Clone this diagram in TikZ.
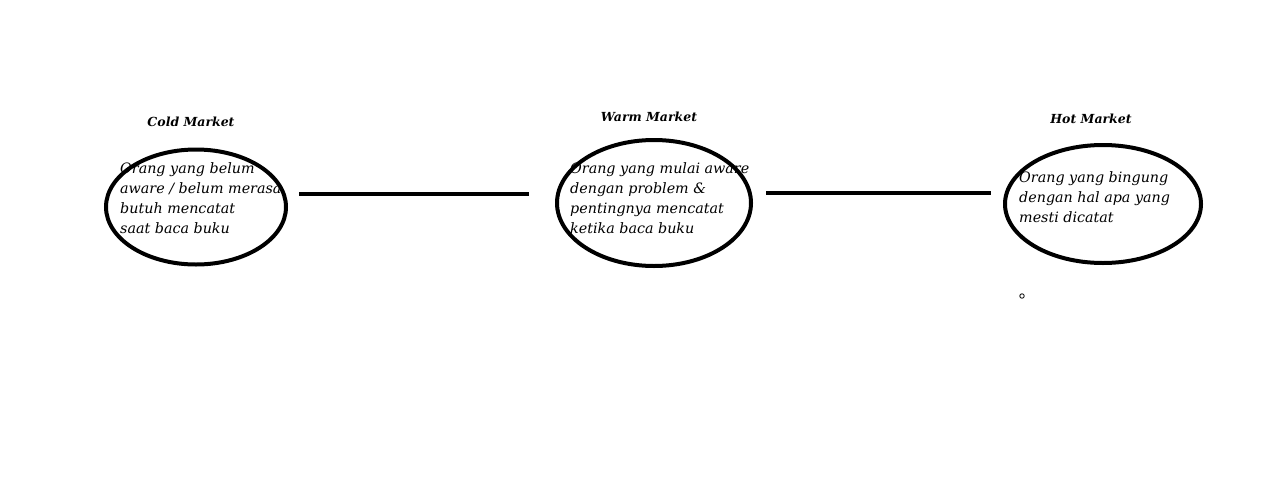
\documentclass[tikz,border=0pt]{standalone}
\usepackage{fontspec}
\setmainfont{DejaVu Serif}
\usetikzlibrary{shapes, arrows, positioning}

\begin{document}
\begin{tikzpicture}
  [
  x=1pt, y=-1pt,
  % pasar
  pasar/.style = {ellipse,
    draw, line width = 4pt,
    inner sep = 0pt},
  % judul
  judul/.style = {font = \fontsize{12.5}{15}\selectfont\bfseries\itshape},
  % isi
  isi/.style = {anchor = north west,
    align = left, inner sep = 0pt,
    font = \fontsize{14.3}{20.3}\selectfont\itshape},
  % line
  line/.style = {draw, line width = 4.5pt},
  ]

  \useasboundingbox (0,0) rectangle (1280,485);

  % nodes
  \node [pasar, minimum width = 180pt, minimum height = 115pt] (cold) at (196,207) {};
  \node [pasar, minimum width = 194pt, minimum height = 126pt] (warm) at (654,203) {};
  \node [pasar, minimum width = 196pt, minimum height = 118pt] (hot) at (1103,204) {};

  \node [judul] (tcold) at (191,122) {Cold Market};
  \node [judul] (twarm) at (649,117) {Warm Market};
  \node [judul] (thot) at (1091,119) {Hot Market};

  \node [isi] (icold) at (120,162) {Orang yang belum\\aware / belum merasa\\butuh mencatat\\saat baca buku};
  \node [isi] (iwarm) at (570,162) {Orang yang mulai aware\\dengan problem \&\\pentingnya mencatat\\ketika baca buku};
  \node [isi] (ihot) at (1019,171) {Orang yang bingung\\dengan hal apa yang\\mesti dicatat};

  \node [circle, draw, thick, inner sep = 0pt, minimum size = 4.5pt] (titik) at (1022,296) {};

  % path
  \path [line, shorten <= 11pt, shorten >= 26pt] (cold.east |- 0,194) -- (warm.west |- 0,194);
  \path [line, shorten <= 13pt, shorten >= 12pt] (warm.east |- 0,193) -- (hot.west |- 0,193);

\end{tikzpicture}
\end{document}
